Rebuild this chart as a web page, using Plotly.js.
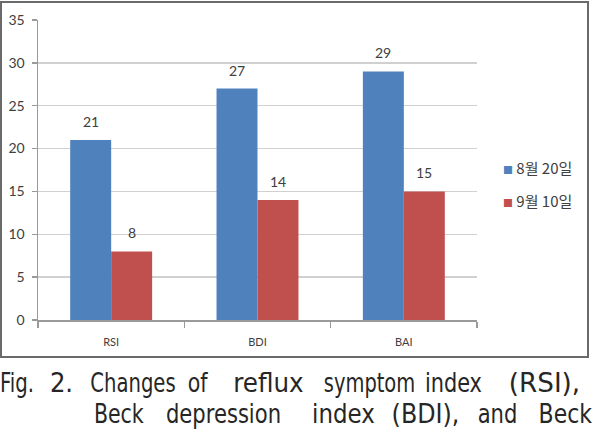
<!DOCTYPE html>
<html>
<head>
<meta charset="utf-8">
<script src="https://cdn.plot.ly/plotly-3.0.1.min.js"></script>
<style>html,body{margin:0;padding:0;background:#fff;}#chart{width:595px;height:432px;}</style>
</head>
<body>
<div id="chart"></div>
<script>
// ---- data ----
const categories = ['RSI', 'BDI', 'BAI'];
const seriesNames = ['8월 20일', '9월 10일'];
const aug20 = [21, 27, 29];
const sep10 = [8, 14, 15];
const yTickVals = [0, 5, 10, 15, 20, 25, 30, 35];
const captionLine1 = ['Fig.', '2.', 'Changes', 'of', 'reflux', 'symptom', 'index', '(RSI),'];
const captionLine2 = ['Beck', 'depression', 'index', '(BDI),', 'and', 'Beck'];

// ---- layout helpers (pixel -> paper) ----
const W = 595, H = 432;
const M = {l: 38, r: 118, t: 20, b: 112};
const PW = W - M.l - M.r, PH = H - M.t - M.b;
const px = x => (x - M.l) / PW;
const py = y => (H - M.b - y) / PH;

const colors = ['#4f81bd', '#c0504d'];
const labelFont = {family: 'Lato, "Open Sans", sans-serif', size: 14, color: '#404040'};
const allSeries = [aug20, sep10];

const traces = allSeries.map((vals, i) => ({
  type: 'bar',
  name: seriesNames[i],
  x: categories,
  y: vals,
  marker: {color: colors[i], line: {width: 0}},
  showlegend: false,
  hoverinfo: 'skip'
}));

// data labels placed through the axes (x category, y value)
const halfBar = 20.5; // px offset of each bar centre inside its group
const dataLabelAnns = [];
allSeries.forEach((vals, i) => {
  vals.forEach((v, j) => {
    dataLabelAnns.push({
      xref: 'x', yref: 'y', x: categories[j], y: v,
      xshift: (i === 0 ? -halfBar : halfBar), yshift: 8,
      xanchor: 'center', yanchor: 'bottom',
      text: String(v), showarrow: false, font: labelFont
    });
  });
});

// caption word spans in pixels (layout only): [left, right]
const line1Span = [[1,33],[48,75],[93,173],[188,208],[227,310],[327,412],[425,482],[497,592]];
const line2Span = [[95,143],[167,280],[310,377],[388,463],[478,517],[538,593]];
const captionFont = {family: '"DejaVu Sans Condensed", "Liberation Sans", sans-serif', size: 26, color: '#262626'};

function captionAnns(words, spans, yc) {
  return words.map((w, i) => ({
    xref: 'paper', yref: 'paper',
    x: px((spans[i][0] + spans[i][1]) / 2), y: py(yc),
    xanchor: 'center', yanchor: 'middle',
    text: w, showarrow: false, font: captionFont
  }));
}

const legendY = [167, 200];
const legendAnns = seriesNames.map((n, i) => ({
  xref: 'paper', yref: 'paper',
  x: px(501), y: py(legendY[i]),
  xanchor: 'left', yanchor: 'middle', showarrow: false,
  text: '<span style="color:' + colors[i] + ';font-size:10px">■</span> ' + n,
  font: {family: '"Noto Sans CJK KR", sans-serif', size: 15, color: '#404040'}
}));

const capAnns = [].concat(captionAnns(captionLine1, line1Span, 383), captionAnns(captionLine2, line2Span, 414));
const capSpans = [].concat(line1Span, line2Span);
const capLine = [].concat(line1Span.map(() => 0), line2Span.map(() => 1));
const capWords = [].concat(captionLine1, captionLine2);
const capStart = legendAnns.length + dataLabelAnns.length;

const layout = {
  width: W, height: H,
  margin: M,
  paper_bgcolor: '#fff', plot_bgcolor: '#fff',
  bargap: 0.44, bargroupgap: 0,
  barmode: 'group',
  showlegend: false,
  xaxis: {
    type: 'category',
    showgrid: false,
    showline: true, linecolor: '#9a9a9a', linewidth: 1.5,
    ticks: 'outside', tickson: 'boundaries', ticklen: 6, tickcolor: '#9a9a9a', tickwidth: 1.5,
    tickfont: {family: 'Lato, sans-serif', size: 11, color: '#404040'},
    ticklabelstandoff: 11,
    zeroline: false
  },
  yaxis: {
    range: [0, 35],
    tickvals: yTickVals,
    showgrid: true, gridcolor: '#d0d0d0', gridwidth: 1.5,
    showline: true, linecolor: '#9a9a9a', linewidth: 1.5,
    ticks: 'outside', ticklen: 5, tickcolor: '#9a9a9a', tickwidth: 1.5,
    tickfont: labelFont,
    ticklabelstandoff: 4,
    zeroline: false
  },
  shapes: [{
    type: 'rect', xref: 'paper', yref: 'paper',
    x0: px(1), x1: px(588), y0: py(2), y1: py(357),
    line: {color: '#6a6a6a', width: 2}, fillcolor: 'rgba(0,0,0,0)', layer: 'above'
  }],
  annotations: [].concat(legendAnns, dataLabelAnns, capAnns)
};

Plotly.newPlot('chart', traces, layout, {staticPlot: true, displayModeBar: false}).then(() => {
  // justified caption: glyph scale blended between per-line and per-word fit, word centred in span
  const root = document.getElementById('chart').getBoundingClientRect();
  const items = [];
  document.querySelectorAll('#chart .annotation').forEach(g => {
    const idx = +g.getAttribute('data-index');
    if (idx < capStart) return;
    const k = idx - capStart;
    const t = g.querySelector('text.annotation-text');
    if (!t) return;
    const bb = t.getBBox();
    const r = t.getBoundingClientRect();
    items.push({k, t, bb, offset: (r.left - root.left) - bb.x});
  });
  const sums = [[0, 0], [0, 0]];
  items.forEach(it => {
    if (capWords[it.k].indexOf('(') >= 0) return;
    const sp = capSpans[it.k];
    sums[capLine[it.k]][0] += sp[1] - sp[0];
    sums[capLine[it.k]][1] += it.bb.width;
  });
  const lineScale = sums.map(s => Math.max(0.75, Math.min(1.1, s[1] ? s[0] / s[1] : 1)));
  items.forEach(it => {
    const sl = lineScale[capLine[it.k]];
    const sp = capSpans[it.k];
    const fit = it.bb.width ? (sp[1] - sp[0]) / it.bb.width : sl;
    const s = Math.max(0.75, Math.min(1.12, Math.sqrt(sl * fit)));
    const c = (sp[0] + sp[1]) / 2;
    const tx = c - it.offset - s * (it.bb.x + it.bb.width / 2);
    it.t.setAttribute('transform', 'translate(' + tx + ',0) scale(' + s + ',1)');
  });
});
</script>
</body>
</html>
